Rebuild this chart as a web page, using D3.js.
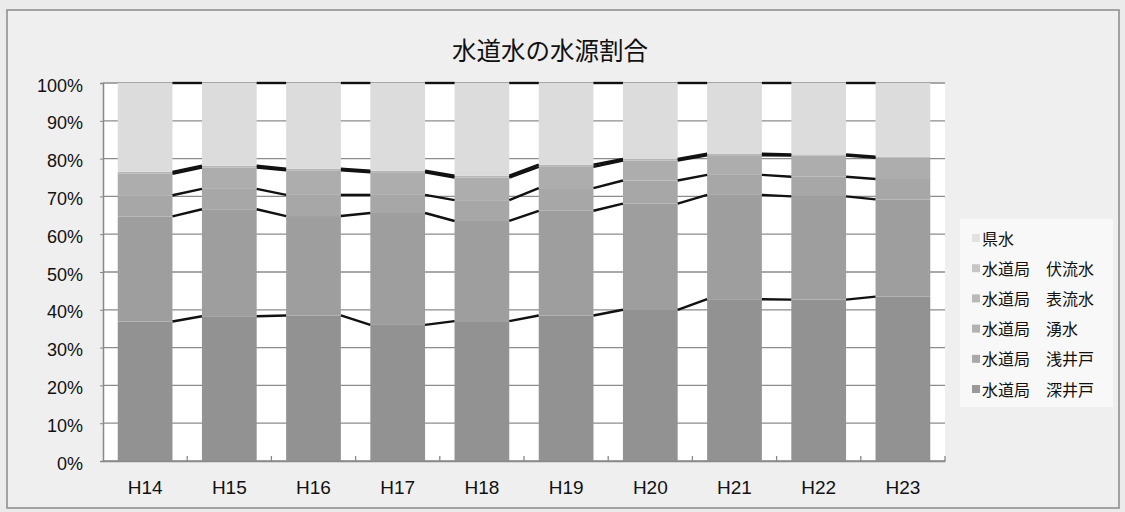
<!DOCTYPE html>
<html><head><meta charset="utf-8">
<script src="https://cdn.jsdelivr.net/npm/d3@7"></script>
<style>body{margin:0;background:#ebebeb}svg{display:block}</style>
</head><body><svg id="c" width="1125" height="512"></svg>
<script>
const categories = ["H14","H15","H16","H17","H18","H19","H20","H21","H22","H23"];
const seriesNames = ["水道局　深井戸","水道局　浅井戸","水道局　湧水","水道局　表流水","水道局　伏流水","県水"];
const fukaido  = [36.9, 38.3, 38.5, 36.0, 37.0, 38.5, 40.0, 42.8, 42.7, 43.5];
const asaido   = [27.8, 28.3, 26.3, 29.6, 26.5, 27.7, 28.1, 27.6, 27.3, 25.7];
const yusui    = [5.6, 5.4, 5.6, 4.8, 5.5, 6.0, 6.1, 5.3, 5.2, 5.4];
const hyoryu   = [5.7, 5.6, 6.5, 6.0, 6.0, 5.6, 5.3, 5.2, 5.6, 5.6];
const fukuryu  = [0.5, 0.5, 0.4, 0.4, 0.5, 0.6, 0.4, 0.4, 0.3, 0.3];
const kensui   = [23.5, 21.9, 22.7, 23.2, 24.5, 21.6, 20.1, 18.7, 18.9, 19.5];
const yTicks = [0,0.1,0.2,0.3,0.4,0.5,0.6,0.7,0.8,0.9,1];
const title = "水道水の水源割合";

const seriesValues = [fukaido, asaido, yusui, hyoryu, fukuryu, kensui];
const colors = ["#929292","#9e9e9e","#a7a7a7","#adadad","#b6b6b6","#dcdcdc"];
const legendColors = ["#9a9a9a","#a9a9a9","#b2b2b2","#b9b9b9","#c6c6c6","#e2e2e2"];

const rows = categories.map((c,i)=>{
  const o = {cat:c};
  seriesNames.forEach((s,j)=>o[s]=seriesValues[j][i]);
  return o;
});
const stack = d3.stack().keys(seriesNames).offset(d3.stackOffsetExpand)(rows);

const svg = d3.select("#c");
const L=103, R=945, T=83, B=461;

svg.append("rect").attr("x",7).attr("y",10).attr("width",1112).attr("height",498)
  .attr("fill","#efefef").attr("stroke","#8a8a8a").attr("stroke-width",1.5);

const x = d3.scaleBand().domain(categories).range([L,R]).paddingInner(0.35).paddingOuter(0.175);
const y = d3.scaleLinear().domain([0,1]).range([B,T]);

svg.append("rect").attr("x",L).attr("y",T).attr("width",R-L).attr("height",B-T).attr("fill","#ffffff");

// gridlines
svg.append("g").selectAll("line").data(yTicks).join("line")
  .attr("x1",L).attr("x2",R).attr("y1",d=>y(d)).attr("y2",d=>y(d))
  .attr("stroke","#8c8c8c").attr("stroke-width",1.3);

// bars
svg.append("g").selectAll("g").data(stack).join("g")
  .attr("fill",(d,i)=>colors[i])
  .selectAll("rect").data(d=>d).join("rect")
  .attr("x",d=>x(d.data.cat)).attr("width",x.bandwidth())
  .attr("y",d=>y(d[1])).attr("height",d=>y(d[0])-y(d[1]));

// series lines
const segs = [];
stack.forEach((s,j)=>{
  for(let i=0;i<categories.length-1;i++){
    segs.push({x1:x(categories[i])+x.bandwidth(), y1:y(s[i][1]), x2:x(categories[i+1]), y2:y(s[i+1][1])});
  }
});
svg.append("g").selectAll("line").data(segs).join("line")
  .attr("x1",d=>d.x1).attr("y1",d=>d.y1).attr("x2",d=>d.x2).attr("y2",d=>d.y2)
  .attr("stroke","#111").attr("stroke-width",2.4);

// axes
const yAxis = d3.axisLeft(y).tickValues(yTicks).tickFormat(d3.format(".0%")).tickSize(3).tickPadding(17);
const gy = svg.append("g").attr("transform",`translate(${L},0)`).call(yAxis);
gy.select(".domain").attr("stroke","#888").attr("stroke-width",1.5);
gy.selectAll(".tick line").attr("stroke","#888");
gy.selectAll("text").attr("font-family","Liberation Sans, Arial, sans-serif").attr("font-size",18)
  .attr("dy","0.45em").attr("fill","#111");

const xAxis = d3.axisBottom(x).tickSize(0).tickPadding(20);
const gx = svg.append("g").attr("transform",`translate(0,${B})`).call(xAxis);
gx.select(".domain").attr("stroke","#888").attr("stroke-width",1.5);
gx.selectAll("text").attr("font-family","Liberation Sans, Arial, sans-serif").attr("font-size",19).attr("fill","#111");
// category boundary tick marks
svg.append("g").selectAll("line").data(d3.range(1,categories.length+1)).join("line")
  .attr("x1",i=>L+i*x.step()).attr("x2",i=>L+i*x.step()).attr("y1",B).attr("y2",B-5)
  .attr("stroke","#888").attr("stroke-width",1.3);

// title
svg.append("text").attr("x",550).attr("y",60).attr("text-anchor","middle")
  .attr("font-family","Noto Sans CJK JP, sans-serif").attr("font-size",24.5).attr("fill","#111").text(title);

// legend
const lg = svg.append("g");
lg.append("rect").attr("x",960).attr("y",219).attr("width",153).attr("height",188).attr("fill","#f8f8f8");
const legendItems = seriesNames.map((n,i)=>({n, c:legendColors[i]})).reverse();
const li = lg.selectAll("g").data(legendItems).join("g")
  .attr("transform",(d,i)=>`translate(972,${238+i*30.2})`);
li.append("rect").attr("x",0).attr("y",-4).attr("width",8).attr("height",8).attr("fill",d=>d.c);
li.append("text").attr("x",10).attr("y",6.5).attr("font-family","Noto Sans CJK JP, sans-serif")
  .attr("font-size",16).attr("fill","#111").text(d=>d.n);
</script></body></html>
